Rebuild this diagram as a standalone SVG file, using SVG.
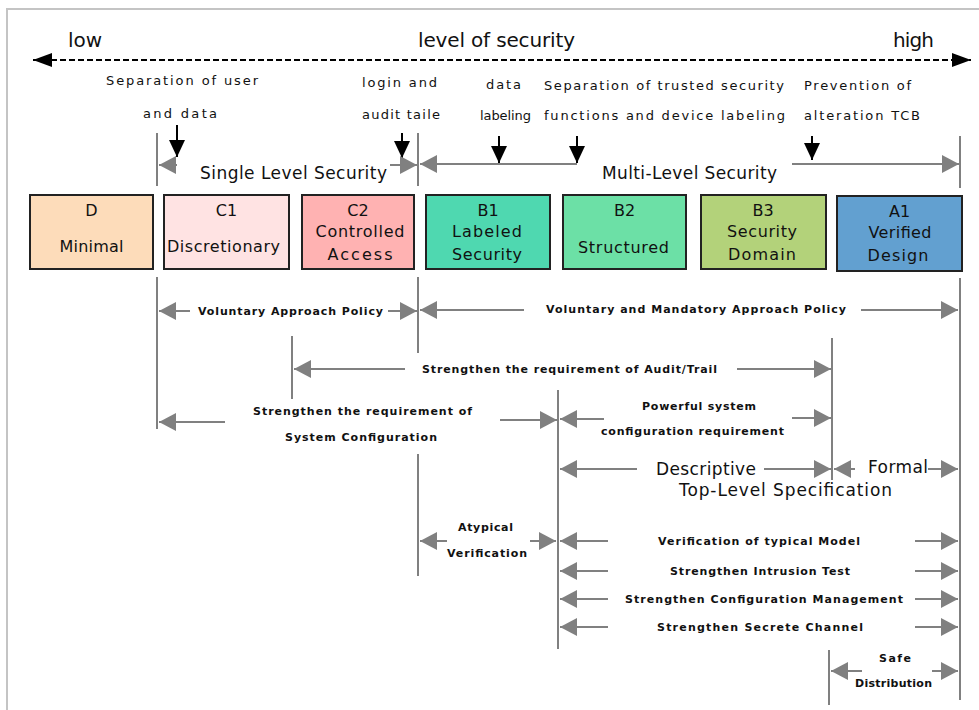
<svg xmlns="http://www.w3.org/2000/svg" width="979" height="710" viewBox="0 0 979 710">
<style>
  .frame{fill:none;stroke:#c4c4c4;stroke-width:2}
  .box{stroke:#222;stroke-width:2}
  .bt{font-family:"DejaVu Sans",sans-serif;font-size:16px;fill:#111;text-anchor:middle;dominant-baseline:central}
  .big{font-family:"DejaVu Sans",sans-serif;font-size:20px;fill:#111;dominant-baseline:central}
  .mid{font-family:"DejaVu Sans",sans-serif;font-size:17px;fill:#111;dominant-baseline:central}
  .top{font-family:"DejaVu Sans",sans-serif;font-size:13px;fill:#111;dominant-baseline:central}
  .sm{font-family:"DejaVu Sans",sans-serif;font-size:11px;font-weight:bold;fill:#111;dominant-baseline:central}
  .g{stroke:#808080;stroke-width:2;fill:none}
  .ga{stroke:#808080;stroke-width:2;fill:none;marker-end:url(#gh)}
  .ba{stroke:#000;stroke-width:2;fill:none;marker-end:url(#bh)}
  .dash{stroke:#000;stroke-width:2;stroke-dasharray:6 3;fill:none;marker-start:url(#dh);marker-end:url(#dh)}
</style>
<defs>
  <marker id="gh" markerUnits="userSpaceOnUse" markerWidth="17" markerHeight="18" refX="17" refY="9" orient="auto">
    <path d="M0,0 L17,9 L0,18 z" fill="#808080"/>
  </marker>
  <marker id="bh" markerUnits="userSpaceOnUse" markerWidth="17" markerHeight="18" refX="17" refY="9" orient="auto">
    <path d="M0,1 L17,9 L0,17 z" fill="#000"/>
  </marker>
  <marker id="dh" markerUnits="userSpaceOnUse" markerWidth="19" markerHeight="16" refX="19" refY="8" orient="auto-start-reverse">
    <path d="M0,1 L19,8 L0,15 z" fill="#000"/>
  </marker>
</defs>

<path class="frame" d="M7,710 V9 H979"/>

<g id="scale">
  <text class="big" x="68" y="40" textLength="34">low</text>
  <text class="big" x="418" y="40" textLength="157">level of security</text>
  <text class="big" x="893" y="40" textLength="41">high</text>
</g>

<g id="annotations">
  <text class="top" x="106" y="80" textLength="152">Separation of user</text>
  <text class="top" x="143" y="113" textLength="74">and data</text>
  <text class="top" x="362" y="82" textLength="75">login and</text>
  <text class="top" x="362" y="114" textLength="78">audit taile</text>
  <text class="top" x="486" y="84" textLength="35">data</text>
  <text class="top" x="480" y="115" textLength="51">labeling</text>
  <text class="top" x="544" y="85" textLength="240">Separation of trusted security</text>
  <text class="top" x="544" y="115" textLength="241">functions and device labeling</text>
  <text class="top" x="804" y="85" textLength="107">Prevention of</text>
  <text class="top" x="804" y="115" textLength="116">alteration TCB</text>
  <text class="mid" x="200" y="173" textLength="187">Single Level Security</text>
  <text class="mid" x="602" y="173" textLength="175">Multi-Level Security</text>
</g>

<g id="node-D">
  <rect class="box" x="30" y="195" width="123" height="74" fill="#FDDCBA"/>
  <text class="bt" x="91.5" y="210">D</text>
  <text class="bt" x="91.5" y="246" textLength="64">Minimal</text>
</g>
<g id="node-C1">
  <rect class="box" x="164" y="195" width="125" height="74" fill="#FFE3E3"/>
  <text class="bt" x="226.5" y="210">C1</text>
  <text class="bt" x="223.5" y="246" textLength="113">Discretionary</text>
</g>
<g id="node-C2">
  <rect class="box" x="302" y="195" width="112" height="74" fill="#FFB2B2"/>
  <text class="bt" x="358" y="210">C2</text>
  <text class="bt" x="360" y="231" textLength="89">Controlled</text>
  <text class="bt" x="360" y="254" textLength="65">Access</text>
</g>
<g id="node-B1">
  <rect class="box" x="426" y="195" width="124" height="74" fill="#4FD8B0"/>
  <text class="bt" x="488" y="210">B1</text>
  <text class="bt" x="487" y="231" textLength="70">Labeled</text>
  <text class="bt" x="487" y="254" textLength="70">Security</text>
</g>
<g id="node-B2">
  <rect class="box" x="563" y="195" width="123" height="74" fill="#6CE0A6"/>
  <text class="bt" x="624.5" y="210">B2</text>
  <text class="bt" x="623.5" y="247" textLength="91">Structured</text>
</g>
<g id="node-B3">
  <rect class="box" x="701" y="195" width="125" height="74" fill="#B3D27A"/>
  <text class="bt" x="763" y="210">B3</text>
  <text class="bt" x="762" y="231" textLength="70">Security</text>
  <text class="bt" x="762" y="254" textLength="68">Domain</text>
</g>
<g id="node-A1">
  <rect class="box" x="837" y="196" width="125" height="75" fill="#62A0D0"/>
  <text class="bt" x="899.5" y="211">A1</text>
  <text class="bt" x="900" y="232" textLength="63">Verified</text>
  <text class="bt" x="898" y="255" textLength="61">Design</text>
</g>

<g id="connectors">
  <line class="dash" x1="33" y1="60" x2="971" y2="60"/>

  <line class="ba" x1="177" y1="125" x2="177" y2="157"/>
  <line class="ba" x1="402" y1="133" x2="402" y2="158"/>
  <line class="ba" x1="499" y1="136" x2="499" y2="163"/>
  <line class="ba" x1="577" y1="136" x2="577" y2="163"/>
  <line class="ba" x1="812" y1="136" x2="812" y2="160"/>

  <path class="g" d="M157,133 V186 M157,277 V429 M418,133 V186 M418,277 V353 M418,454 V576 M960,136 V188 M960,278 V700 M292,336 V399 M832,338 V480 M558,390 V649 M829,650 V705"/>

  <line class="ga" x1="177" y1="165" x2="159" y2="165"/>
  <line class="ga" x1="390" y1="165" x2="417" y2="165"/>
  <line class="ga" x1="577" y1="164" x2="420" y2="164"/>
  <line class="ga" x1="792" y1="164" x2="959" y2="164"/>

  <line class="ga" x1="190" y1="311" x2="159" y2="311"/>
  <line class="ga" x1="388" y1="311" x2="417" y2="311"/>
  <line class="ga" x1="524" y1="310" x2="420" y2="310"/>
  <line class="ga" x1="861" y1="310" x2="958" y2="310"/>

  <line class="ga" x1="405" y1="369" x2="294" y2="369"/>
  <line class="ga" x1="737" y1="369" x2="831" y2="369"/>

  <line class="ga" x1="225" y1="422" x2="159" y2="422"/>
  <line class="ga" x1="500" y1="420" x2="557" y2="420"/>
  <line class="ga" x1="604" y1="419" x2="560" y2="419"/>
  <line class="ga" x1="792" y1="418" x2="831" y2="418"/>

  <line class="ga" x1="637" y1="469" x2="560" y2="469"/>
  <line class="ga" x1="764" y1="469" x2="831" y2="469"/>
  <line class="ga" x1="855" y1="469" x2="834" y2="469"/>
  <line class="ga" x1="928" y1="469" x2="958" y2="469"/>

  <line class="ga" x1="447" y1="541" x2="420" y2="541"/>
  <line class="ga" x1="530" y1="541" x2="556" y2="541"/>

  <line class="ga" x1="608" y1="541" x2="560" y2="541"/>
  <line class="ga" x1="915" y1="541" x2="958" y2="541"/>
  <line class="ga" x1="608" y1="571" x2="560" y2="571"/>
  <line class="ga" x1="915" y1="571" x2="958" y2="571"/>
  <line class="ga" x1="608" y1="599" x2="560" y2="599"/>
  <line class="ga" x1="915" y1="599" x2="958" y2="599"/>
  <line class="ga" x1="608" y1="627" x2="560" y2="627"/>
  <line class="ga" x1="915" y1="627" x2="958" y2="627"/>

  <line class="ga" x1="862" y1="671" x2="831" y2="671"/>
  <line class="ga" x1="932" y1="671" x2="958" y2="671"/>
</g>

<g id="labels">
  <text class="sm" x="198" y="311" textLength="185">Voluntary Approach Policy</text>
  <text class="sm" x="546" y="309" textLength="300">Voluntary and Mandatory Approach Policy</text>
  <text class="sm" x="422" y="369" textLength="295">Strengthen the requirement of Audit/Trail</text>
  <text class="sm" x="253" y="411" textLength="219">Strengthen the requirement of</text>
  <text class="sm" x="285" y="437" textLength="152">System Configuration</text>
  <text class="sm" x="642" y="406" textLength="114">Powerful system</text>
  <text class="sm" x="601" y="431" textLength="183">configuration requirement</text>
  <text class="mid" x="656" y="469" textLength="100">Descriptive</text>
  <text class="mid" x="679" y="490" textLength="213">Top-Level Specification</text>
  <text class="mid" x="868" y="467" textLength="60">Formal</text>
  <text class="sm" x="458" y="527" textLength="55">Atypical</text>
  <text class="sm" x="447" y="553" textLength="80">Verification</text>
  <text class="sm" x="658" y="541" textLength="202">Verification of typical Model</text>
  <text class="sm" x="670" y="571" textLength="180">Strengthen Intrusion Test</text>
  <text class="sm" x="625" y="599" textLength="278">Strengthen Configuration Management</text>
  <text class="sm" x="657" y="627" textLength="206">Strengthen Secrete Channel</text>
  <text class="sm" x="879" y="658" textLength="32">Safe</text>
  <text class="sm" x="855" y="683" textLength="77">Distribution</text>
</g>
</svg>
